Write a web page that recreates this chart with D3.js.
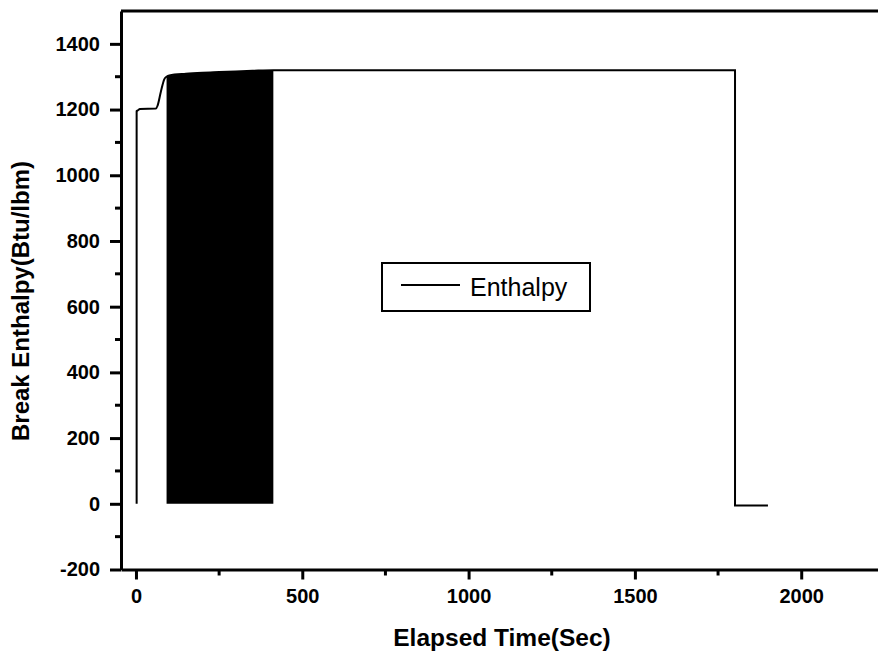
<!DOCTYPE html>
<html>
<head>
<meta charset="utf-8">
<script src="https://cdn.jsdelivr.net/npm/d3@7"></script>
<style>
  body { margin: 0; background: #fff; }
  svg { display: block; font-family: "Liberation Sans", Arial, sans-serif; }
</style>
</head>
<body>
<svg id="chart" width="878" height="657"></svg>
<script>
// enthalpy trace (time in sec, enthalpy in Btu/lbm)
var lineTime  = [2, 2, 5, 12, 60, 65, 75, 85, 92, 100, 150, 200, 250, 300, 350, 413, 1000, 1400, 1801, 1801, 1900];
var lineValue = [0, 1195, 1197, 1202, 1203, 1212, 1255, 1292, 1300, 1304, 1309, 1312, 1314, 1316, 1318, 1320, 1320, 1320, 1320, -5, -5];

// oscillating part, drawn as a filled band between its low and high envelope
var bandTime = [92, 100, 150, 200, 250, 300, 350, 413];
var bandHigh = [1300, 1304, 1309, 1312, 1314, 1316, 1318, 1320];
var bandLow  = [0, 0, 0, 0, 0, 0, 0, 0];

var xMajor = [0, 500, 1000, 1500, 2000];
var xMinor = [250, 750, 1250, 1750, 2250];
var yMajor = [-200, 0, 200, 400, 600, 800, 1000, 1200, 1400];
var yMinor = [-100, 100, 300, 500, 700, 900, 1100, 1300];

var svg = d3.select("#chart");

var x = d3.scaleLinear().domain([-45, 2300]).range([121, 901]);
var y = d3.scaleLinear().domain([-200, 1500]).range([569.5, 11]);

// band
var band = bandTime.map((t, i) => ({t: t, lo: bandLow[i], hi: bandHigh[i]}));
svg.append("path")
  .datum(band)
  .attr("fill", "#000")
  .attr("d", d3.area().x(d => x(d.t)).y0(d => y(d.lo)).y1(d => y(d.hi)));

// line
var pts = lineTime.map((t, i) => [t, lineValue[i]]);
svg.append("path")
  .datum(pts)
  .attr("fill", "none")
  .attr("stroke", "#000")
  .attr("stroke-width", 2)
  .attr("d", d3.line().x(d => x(d[0])).y(d => y(d[1])).curve(d3.curveMonotoneX));

// axes
var xAx = svg.append("g").attr("transform", "translate(0," + y(-200) + ")")
  .call(d3.axisBottom(x).tickValues(xMajor).tickFormat(d => String(d))
    .tickSize(10).tickSizeOuter(0).tickPadding(9));
xAx.append("g").attr("class", "minor").selectAll("line").data(xMinor).join("line")
  .attr("x1", d => x(d)).attr("x2", d => x(d)).attr("y1", 0).attr("y2", 6);

var yAx = svg.append("g").attr("transform", "translate(" + x(-45) + ",0)")
  .call(d3.axisLeft(y).tickValues(yMajor).tickFormat(d => String(d))
    .tickSize(11).tickSizeOuter(0).tickPadding(10));
yAx.append("g").attr("class", "minor").selectAll("line").data(yMinor).join("line")
  .attr("x1", 0).attr("x2", -6).attr("y1", d => y(d)).attr("y2", d => y(d));

svg.selectAll(".domain").attr("stroke", "#000").attr("stroke-width", 3);
svg.selectAll(".tick line").attr("stroke", "#000").attr("stroke-width", 3);
svg.selectAll(".minor line").attr("stroke", "#000").attr("stroke-width", 3);
svg.selectAll(".tick text")
  .attr("fill", "#000")
  .attr("font-size", 20)
  .attr("font-weight", "bold")
  .attr("font-family", "'Liberation Sans', Arial, sans-serif");

// top frame line
svg.append("line")
  .attr("x1", x(-45)).attr("x2", 878)
  .attr("y1", y(1500)).attr("y2", y(1500))
  .attr("stroke", "#000").attr("stroke-width", 3);

// titles
svg.append("text")
  .attr("x", 502).attr("y", 646)
  .attr("text-anchor", "middle")
  .attr("font-size", 24.5).attr("font-weight", "bold")
  .text("Elapsed Time(Sec)");

svg.append("text")
  .attr("transform", "translate(29,301) rotate(-90)")
  .attr("text-anchor", "middle")
  .attr("font-size", 24).attr("font-weight", "bold")
  .text("Break Enthalpy(Btu/lbm)");

// legend
var leg = svg.append("g");
leg.append("rect")
  .attr("x", 382).attr("y", 263).attr("width", 208).attr("height", 48)
  .attr("fill", "#fff").attr("stroke", "#000").attr("stroke-width", 2);
leg.append("line")
  .attr("x1", 401).attr("x2", 460).attr("y1", 285).attr("y2", 285)
  .attr("stroke", "#000").attr("stroke-width", 2);
leg.append("text")
  .attr("x", 470).attr("y", 296)
  .attr("font-size", 25)
  .text("Enthalpy");
</script>
</body>
</html>
